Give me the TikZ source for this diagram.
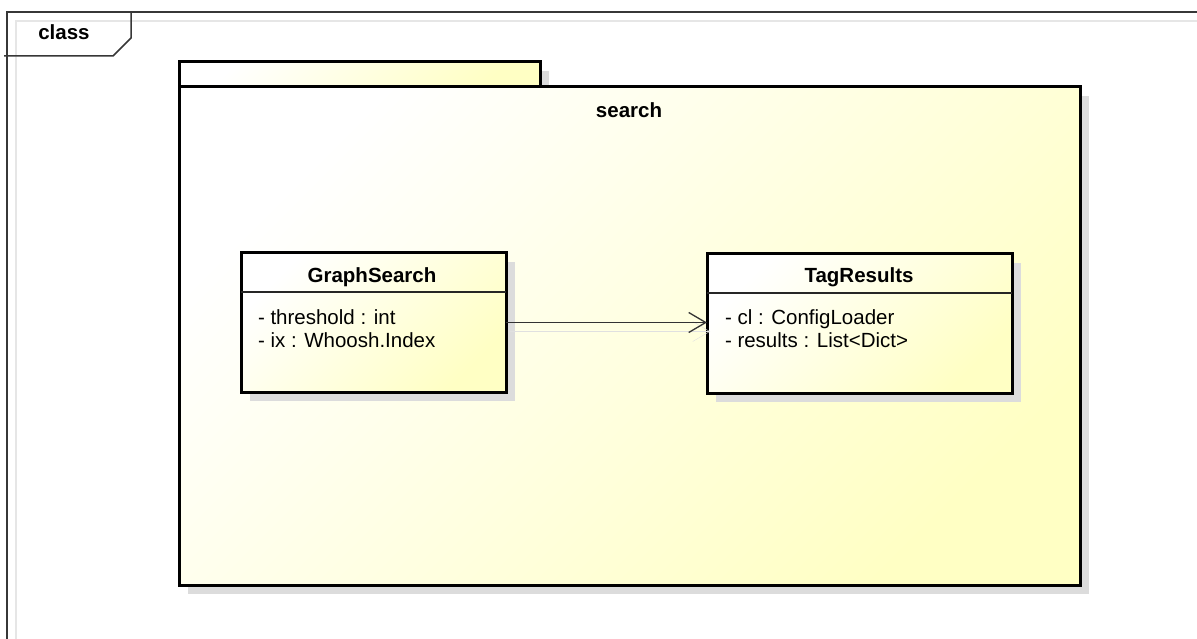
\documentclass[tikz,border=0pt]{standalone}
\usepackage{fontspec}
\setmainfont{Liberation Sans}
\usetikzlibrary{arrows.meta,shadows}
\definecolor{ylw}{RGB}{255,255,196}
\definecolor{shgray}{RGB}{220,220,220}
\definecolor{framegray}{RGB}{55,55,55}
\definecolor{innergray}{RGB}{230,230,230}
\begin{document}
\begin{tikzpicture}[x=1pt,y=-1pt,
  txt/.style={font=\fontsize{20.5pt}{23pt}\selectfont, inner sep=0pt, outer sep=0pt},
  titletxt/.style={txt, font=\fontsize{20.5pt}{23pt}\selectfont\bfseries},
  attr/.style={txt, anchor=base west},
  umlbox/.style={draw=black, line width=3pt, inner sep=0pt, outer sep=0pt,
    anchor=north west, left color=white, right color=ylw, shading angle=45,
    general shadow={fill=shgray, shadow xshift=9pt, shadow yshift=-9pt}},
  sepline/.style={draw=black!85, line width=1.3pt},
  framestyle/.style={draw=framegray, line width=1.5pt},
  assoc/.style={draw=black!80, line width=1.3pt,
    -{Straight Barb[length=17pt,width=20pt]},
    preaction={draw=black!12, transform canvas={shift={(4pt,-9pt)}}}}
]
\useasboundingbox (0,0) rectangle (1197,639);
\clip (0,0) rectangle (1197,639);
\fill[white] (0,0) rectangle (1197,639);

% diagram frame
\draw[draw=innergray, line width=1.5pt] (16,700) -- (16,21) -- (1230,21);
\draw[framestyle] (7,700) -- (7,12) -- (1230,12);
\draw[framestyle] (4,56) -- (113,56) -- (131,38) -- (131,12);
\node[titletxt, anchor=base] (classlbl) at (64,40) {class};

% package
\node[umlbox, minimum width=361pt, minimum height=25pt] (pkgtab) at (179,62) {};
\node[umlbox, minimum width=901pt, minimum height=498pt] (pkg) at (179,87) {};
\node[titletxt, anchor=base] (pkglbl) at (629,118) {search};

% GraphSearch
\node[umlbox, minimum width=265pt, minimum height=139pt] (gs) at (241,253) {};
\draw[sepline] ([yshift=-39pt]gs.north west) -- ([yshift=-39pt]gs.north east);
\node[titletxt, anchor=base] (gstitle) at (372,283) {GraphSearch};
\node[attr] (gsa1) at (258,324) {- threshold : int};
\node[attr] (gsa2) at (258,347) {- ix : Whoosh.Index};

% TagResults
\node[umlbox, minimum width=305pt, minimum height=139pt] (tr) at (707,254) {};
\draw[sepline] ([yshift=-39pt]tr.north west) -- ([yshift=-39pt]tr.north east);
\node[titletxt, anchor=base] (trtitle) at (859,283) {TagResults};
\node[attr] (tra1) at (725,324) {- cl : ConfigLoader};
\node[attr] (tra2) at (725,347) {- results : List<Dict>};

% association
\draw[assoc] (gs.east) -- (gs.east -| tr.west);
\end{tikzpicture}
\end{document}
